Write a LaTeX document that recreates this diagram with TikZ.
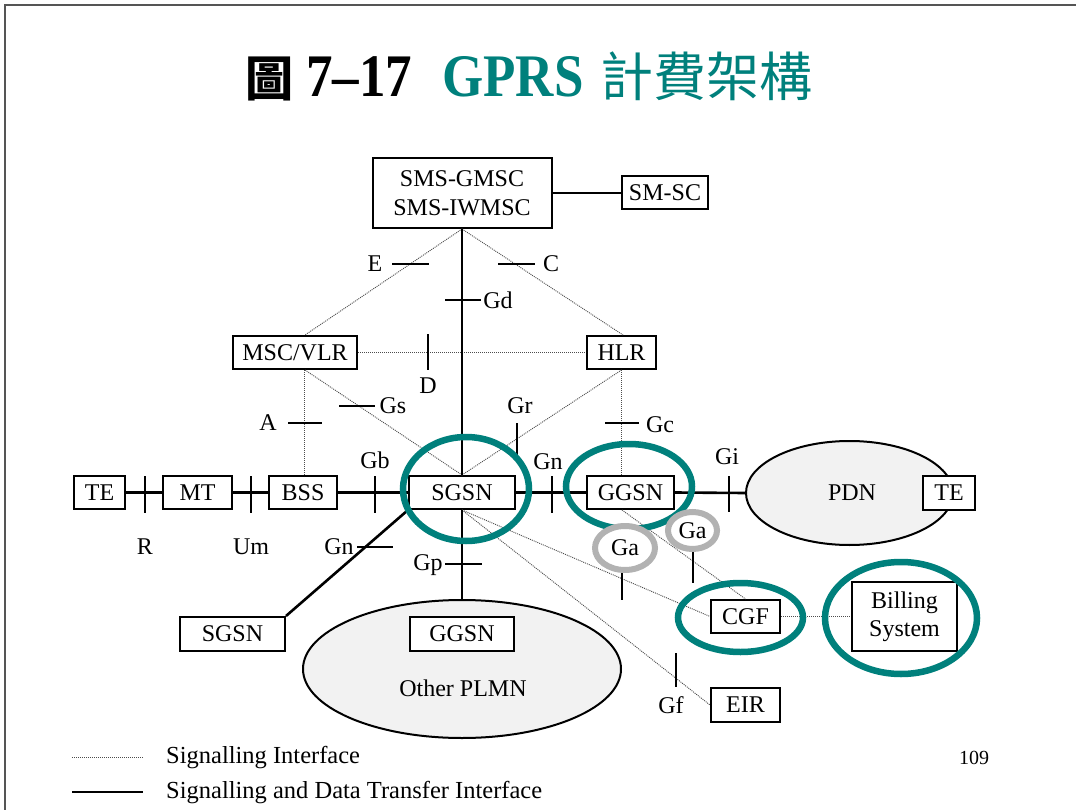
\documentclass[tikz,border=0pt]{standalone}
\usepackage{fontspec}
\setmainfont{Liberation Serif}
\newfontfamily\cjk{Noto Sans CJK TC}
\usetikzlibrary{shapes.geometric}
\definecolor{ringteal}{RGB}{0,128,124}
\definecolor{ringgray}{RGB}{178,178,178}
\definecolor{cloudfill}{RGB}{242,242,242}
\definecolor{framegray}{RGB}{85,85,85}
\begin{document}
\begin{tikzpicture}[x=1pt,y=-1pt,
  lbl/.style={inner sep=0pt, font=\fontsize{24}{28}\selectfont},
  box/.style={draw, line width=2pt, fill=white, inner sep=0pt,
              font=\fontsize{24}{28}\selectfont, align=center},
  cloud/.style={ellipse, draw, line width=2pt, fill=cloudfill, inner sep=0pt},
  sig/.style={draw=black!70, line width=0.9pt, dash pattern=on 1pt off 1pt},
  data/.style={draw, line width=2.6pt},
  tick/.style={draw, line width=2.4pt},
  tealring/.style={draw=ringteal, line width=6.5pt},
  garing/.style={draw=ringgray, line width=6pt, fill=white}]
\useasboundingbox (0,0) rectangle (1076,810);

% page frame
\draw[framegray, line width=1.5pt] (5,810) -- (5,5) -- (1076,5);

% title
\node[anchor=base west, inner sep=0pt] (tA) at (245,97)
  {\fontsize{48}{50}\selectfont\cjk\bfseries 圖};
\node[anchor=base west, inner sep=0pt] (tB) at (306,97)
  {\scalebox{1}[1.14]{\fontsize{53}{55}\selectfont\bfseries 7--17}};
\node[anchor=base west, inner sep=0pt, text=ringteal] (tC) at (442,97)
  {\scalebox{1}[1.14]{\fontsize{53}{55}\selectfont\bfseries GPRS}};
\node[anchor=base west, inner sep=0pt, text=ringteal] (tD) at (600,97)
  {\fontsize{53}{55}\selectfont\cjk 計費架構};

% network clouds
\node[cloud, minimum width=207pt, minimum height=104pt] (pdn) at (849.5,493) {};
\node[lbl] (pdnl) at (852,493) {PDN};
\node[cloud, minimum width=318pt, minimum height=138pt] (plmn) at (462,669) {};
\node[lbl] (plmnl) at (463,688) {Other PLMN};

% network elements
\node[box, minimum width=179pt, minimum height=70pt] (sms) at (462,193)
  {SMS-GMSC\\[1pt]SMS-IWMSC};
\node[box, minimum width=86pt, minimum height=33pt] (smsc) at (665,193) {SM-SC};
\node[box, minimum width=124pt, minimum height=33pt] (msc) at (295,352.5) {MSC/VLR};
\node[box, minimum width=69pt, minimum height=33pt] (hlr) at (621.5,352.5) {HLR};
\node[box, minimum width=51pt, minimum height=33pt] (te1) at (99.5,492.5) {TE};
\node[box, minimum width=69pt, minimum height=33pt] (mt) at (197.5,492.5) {MT};
\node[box, minimum width=68pt, minimum height=33pt] (bss) at (303,492.5) {BSS};
\node[box, minimum width=106pt, minimum height=33pt] (sgsn) at (462,492.5) {SGSN};
\node[box, minimum width=87pt, minimum height=33pt] (ggsn) at (630.5,492.5) {GGSN};
\node[box, minimum width=52pt, minimum height=34pt] (te2) at (949,493) {TE};
\node[box, minimum width=69pt, minimum height=33pt] (cgf) at (745.5,616.5) {CGF};
\node[box, minimum width=105pt, minimum height=69pt] (bill) at (904.5,616.5)
  {Billing\\[0pt]System};
\node[box, minimum width=69pt, minimum height=34pt] (eir) at (745.5,705) {EIR};
\node[box, minimum width=105pt, minimum height=34pt] (sgsn2) at (232.5,634) {SGSN};
\node[box, minimum width=104pt, minimum height=34pt] (ggsn2) at (462,634) {GGSN};

% signalling interfaces
\path[sig] (sms.south) -- ([xshift=10pt]msc.north);
\path[sig] (sms.south) -- ([xshift=1.5pt]hlr.north);
\path[sig] (msc.east) -- (hlr.west);
\path[sig] ([xshift=10pt]msc.south) -- (sgsn.north);
\path[sig] ([xshift=9pt]msc.south) -- ([xshift=1pt]bss.north);
\path[sig] (hlr.south) -- (sgsn.north);
\path[sig] (hlr.south) -- (hlr.south |- ggsn.north);
\path[sig] (sgsn.south) -- (cgf.west);
\path[sig] (sgsn.south) -- (eir.west);
\path[sig] ([xshift=-8.5pt]ggsn.south) -- (cgf.north);
\path[sig] (cgf.east) -- (bill.west);

% signalling and data transfer interfaces
\path[data] (sms.east) -- (smsc.west);
\path[data] (sgsn.north |- sms.south) -- (sgsn.north);
\path[data] (te1.east) -- (mt.west);
\path[data] (mt.east) -- (bss.west);
\path[data] (bss.east) -- (sgsn.west);
\path[data] (sgsn.east) -- (ggsn.west);
\path[data] (ggsn.east) -- (pdn.west);
\path[data] (sgsn.south) -- (plmn.north);
\path[data] (sgsn.south west) -- (sgsn2.north east);

% interface reference points
\path[tick] (392,264) -- (429,264);  \node[lbl] (lE) at (375,264) {E};
\path[tick] (498,264) -- (535,264);  \node[lbl] (lC) at (551,264) {C};
\path[tick] (445,300) -- (481,300);  \node[lbl] (lGd) at (498,300) {Gd};
\path[tick] (428,334) -- (428,370);  \node[lbl] (lD) at (428,386) {D};
\path[tick] (339,406) -- (375,406);  \node[lbl] (lGs) at (393,406) {Gs};
\path[tick] (288,423) -- (322,423);  \node[lbl] (lA) at (268,423) {A};
\path[tick] (517,423) -- (517,459);  \node[lbl] (lGr) at (520,406) {Gr};
\path[tick] (605,423) -- (639,423);  \node[lbl] (lGc) at (660,425) {Gc};
\path[tick] (145,476) -- (145,513);  \node[lbl] (lR) at (145,547) {R};
\path[tick] (251,476) -- (251,513);  \node[lbl] (lUm) at (251,547) {Um};
\path[tick] (375,476) -- (375,513);  \node[lbl] (lGb) at (375,460) {Gb};
\path[tick] (552,476) -- (552,513);  \node[lbl] (lGn) at (548,462) {Gn};
\path[tick] (729,476) -- (729,512);  \node[lbl] (lGi) at (727,457) {Gi};
\path[tick] (357,547) -- (393,547);  \node[lbl] (lGn2) at (339,547) {Gn};
\path[tick] (445,564) -- (482,564);  \node[lbl] (lGp) at (428,565) {Gp};
\path[tick] (622,573) -- (622,600);
\path[tick] (693,552) -- (693,583);
\path[tick] (676,653) -- (676,687);  \node[lbl] (lGf) at (671,705) {Gf};

% highlighted elements
\draw[tealring] (466,489) ellipse [x radius=63pt, y radius=52pt];
\draw[tealring] (629,486.5) ellipse [x radius=63pt, y radius=42.5pt];
\draw[tealring] (740.5,617.5) ellipse [x radius=62.5pt, y radius=34.5pt];
\draw[tealring] (901,618) ellipse [x radius=76pt, y radius=56pt];

% Ga charging interfaces
\draw[garing] (625,548) ellipse [x radius=30pt, y radius=22pt];
\node[lbl] (lGa1) at (625,548) {Ga};
\draw[garing] (692.5,530.5) ellipse [x radius=24.5pt, y radius=18.5pt];
\node[lbl] (lGa2) at (692.5,531) {Ga};

% legend
\path[sig] (72,757) -- (143,757);
\node[lbl, anchor=west, font=\fontsize{24.5}{28}\selectfont] (leg1) at (166,758)
  {Signalling Interface};
\path[data] (72,792) -- (143,792);
\node[lbl, anchor=west, font=\fontsize{24.5}{28}\selectfont] (leg2) at (166,793)
  {Signalling and Data Transfer Interface};

% page number
\node[lbl, font=\fontsize{20}{24}\selectfont] (pg) at (974,758) {109};
\end{tikzpicture}
\end{document}
